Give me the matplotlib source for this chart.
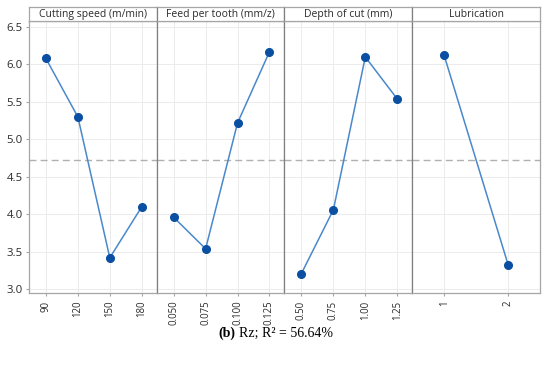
import matplotlib
matplotlib.use("Agg")
import matplotlib.pyplot as plt

factors = ["Cutting speed (m/min)", "Feed per tooth (mm/z)", "Depth of cut (mm)", "Lubrication"]
levels_speed = ["90", "120", "150", "180"]
levels_feed = ["0.050", "0.075", "0.100", "0.125"]
levels_depth = ["0.50", "0.75", "1.00", "1.25"]
levels_lub = ["1", "2"]
means_speed = [6.08, 5.30, 3.42, 4.10]
means_feed = [3.96, 3.54, 5.22, 6.17]
means_depth = [3.21, 4.06, 6.10, 5.54]
means_lub = [6.12, 3.33]
grand_mean = 4.725
yticks = [3.0, 3.5, 4.0, 4.5, 5.0, 5.5, 6.0, 6.5]

plt.rcParams['font.family'] = ['Open Sans', 'DejaVu Sans']

fig = plt.figure(figsize=(5.5, 3.7), dpi=100)
left, right = 29/550, 540/550
bottom, top = 1 - 293/370, 1 - 21/370
htop = 1 - 7/370
level_sets = [levels_speed, levels_feed, levels_depth, levels_lub]
mean_sets = [means_speed, means_feed, means_depth, means_lub]
W = right - left
x0 = left
line_c = "#4a88cc"
mark_c = "#0b4fa3"
edge_c = "#a6a6a6"
txt_c = "#2b2b2b"
for i, (labs, vals, name) in enumerate(zip(level_sets, mean_sets, factors)):
    w = W / 4
    ax = fig.add_axes([x0, bottom, w, top - bottom])
    xs = list(range(1, len(labs) + 1))
    ax.plot(xs, vals, color=line_c, lw=1.1, zorder=3)
    ax.plot(xs, vals, 'o', color=mark_c, ms=5.5, zorder=4)
    ax.axhline(grand_mean, color="#b0b0b0", ls=(0, (5, 3)), lw=1.0, zorder=2)
    if len(labs) == 2:
        ax.set_xlim(0.5, 2.5)
    else:
        ax.set_xlim(0.47, 4.47)
    ax.set_ylim(2.95, 6.58)
    ax.set_xticks(xs)
    ax.set_xticklabels(labs, rotation=90, fontsize=6.9, color=txt_c)
    ax.set_yticks(yticks)
    ax.grid(True, color="#ececec", lw=0.7, zorder=0)
    ax.set_axisbelow(True)
    ax.tick_params(axis='both', length=2.5, color=edge_c, pad=2)
    ax.tick_params(axis='x', pad=3)
    if i == 0:
        ax.set_yticklabels([f"{v:.1f}" for v in yticks], fontsize=8.2, color=txt_c)
    else:
        ax.tick_params(axis='y', left=False, labelleft=False)
    for s in ax.spines.values():
        s.set_color(edge_c)
        s.set_linewidth(0.9)
    if i > 0:
        ax.spines['left'].set_color("#7f7f7f")
    hax = fig.add_axes([x0, top, w, htop - top])
    hax.set_xticks([])
    hax.set_yticks([])
    for s in hax.spines.values():
        s.set_color(edge_c)
        s.set_linewidth(0.9)
    if i > 0:
        hax.spines['left'].set_color("#7f7f7f")
    hax.text(0.5, 0.45, name, ha='center', va='center', fontsize=7.5, color=txt_c,
             transform=hax.transAxes)
    x0 += w

serif = ['Liberation Serif', 'DejaVu Serif']
fig.text(218/550, 1 - 333/370, "(b)", ha='left', va='center', fontsize=10,
         fontweight='bold', family=serif)
fig.text(239/550, 1 - 333/370, "Rz; R² = 56.64%", ha='left', va='center', fontsize=10,
         family=serif)

fig.savefig("out.png", dpi=100, facecolor="white")
